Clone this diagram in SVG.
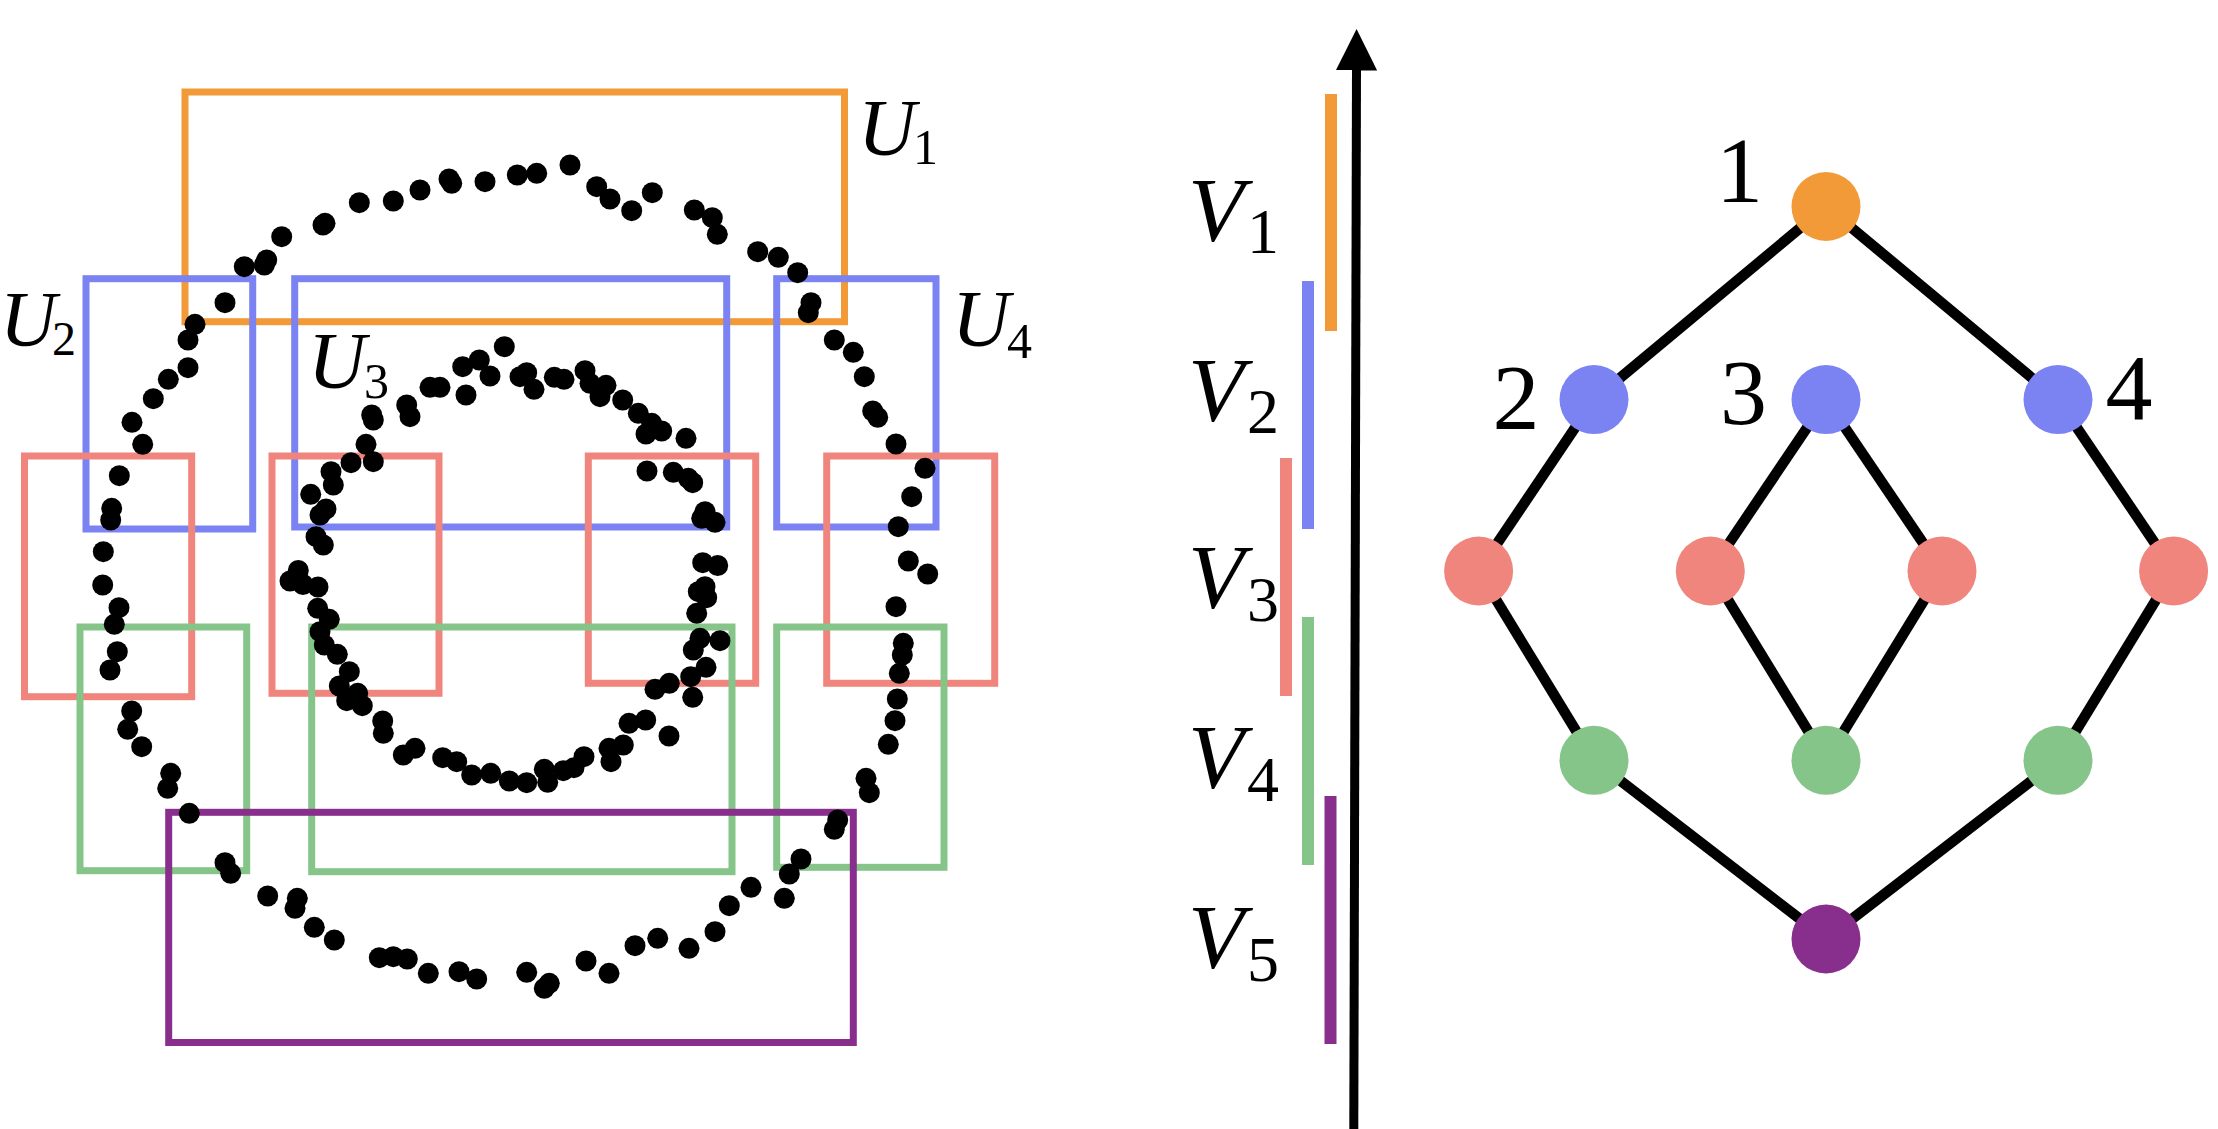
<svg xmlns="http://www.w3.org/2000/svg" width="2218" height="1129" viewBox="0 0 2218 1129">
<defs>
<style>
.bg{fill:#ffffff}
.r{fill:none;stroke-width:7}
.or{stroke:#F29A37}.bl{stroke:#7B82F2}.rd{stroke:#EF857D}.gr{stroke:#85C58A}.pu{stroke:#882E8C}
.dots circle{fill:#000}
.lab{font-family:"Liberation Serif","Times New Roman",serif;font-style:italic;fill:#000}
.sub{font-family:"Liberation Serif","Times New Roman",serif;fill:#000}
.num{font-family:"Liberation Serif","Times New Roman",serif;fill:#000;font-size:94px;text-anchor:middle}
.edge{stroke:#000;stroke-width:10.5;fill:none}
.node{stroke:none}
</style>
<marker id="ah" markerWidth="4.6" markerHeight="4.6" refX="0.5" refY="2.3" orient="auto" markerUnits="strokeWidth">
<path d="M0,0 L4.6,2.3 L0,4.6 Z" fill="#000"/>
</marker>
</defs>
<rect class="bg" x="0" y="0" width="2218" height="1129"/>

<g id="cover-rects">
<rect id="U1" class="r or" x="185" y="92" width="659.5" height="229.7"/>
<rect id="U2" class="r bl" x="86" y="278.7" width="166.7" height="250.3"/>
<rect id="U3" class="r bl" x="294.7" y="278.7" width="432" height="248.3"/>
<rect id="U4" class="r bl" x="776.7" y="278.7" width="159.3" height="248.3"/>
<rect class="r rd" x="24.5" y="456" width="167.2" height="240.7"/>
<rect class="r rd" x="272" y="456" width="167" height="237.3"/>
<rect class="r rd" x="588.3" y="456" width="167.4" height="227.3"/>
<rect class="r rd" x="826.7" y="456" width="168" height="227.3"/>
<rect class="r gr" x="80" y="627" width="166.7" height="243.7"/>
<rect class="r gr" x="311.7" y="627" width="420.3" height="244.7"/>
<rect class="r gr" x="776.7" y="627" width="167.3" height="240.3"/>
<rect class="r pu" x="168.7" y="812.3" width="684.6" height="230.2"/>
</g>

<g id="point-cloud" class="dots">
<circle cx="449" cy="179" r="10.5"/><circle cx="451.7" cy="183.3" r="10.5"/><circle cx="485" cy="181.7" r="10.5"/><circle cx="517.3" cy="175" r="10.5"/><circle cx="536.7" cy="173.3" r="10.5"/><circle cx="570" cy="165" r="10.5"/><circle cx="596.7" cy="186.7" r="10.5"/><circle cx="610" cy="199" r="10.5"/><circle cx="631.7" cy="210.7" r="10.5"/><circle cx="652.3" cy="192.7" r="10.5"/><circle cx="694.3" cy="210" r="10.5"/><circle cx="712.3" cy="217.7" r="10.5"/><circle cx="717.3" cy="234.3" r="10.5"/><circle cx="757.7" cy="251.7" r="10.5"/><circle cx="778.3" cy="257.3" r="10.5"/><circle cx="797.7" cy="272.7" r="10.5"/><circle cx="811" cy="302.7" r="10.5"/><circle cx="808.3" cy="312.7" r="10.5"/><circle cx="834.3" cy="340" r="10.5"/><circle cx="853.3" cy="352.3" r="10.5"/><circle cx="864.3" cy="376.7" r="10.5"/><circle cx="872.7" cy="411" r="10.5"/><circle cx="877.7" cy="417.3" r="10.5"/><circle cx="896" cy="444" r="10.5"/><circle cx="925" cy="468.3" r="10.5"/><circle cx="911.7" cy="496.7" r="10.5"/><circle cx="898.3" cy="526.7" r="10.5"/><circle cx="908.3" cy="561" r="10.5"/><circle cx="927.7" cy="574" r="10.5"/><circle cx="896" cy="606.7" r="10.5"/><circle cx="903.3" cy="643.3" r="10.5"/><circle cx="902.3" cy="655" r="10.5"/><circle cx="899.3" cy="673.3" r="10.5"/><circle cx="897.3" cy="699" r="10.5"/><circle cx="895" cy="720.7" r="10.5"/><circle cx="888.3" cy="744.3" r="10.5"/><circle cx="866" cy="778.3" r="10.5"/><circle cx="869.3" cy="792.7" r="10.5"/><circle cx="837.7" cy="820" r="10.5"/><circle cx="834.3" cy="829.3" r="10.5"/><circle cx="801" cy="859" r="10.5"/><circle cx="789.3" cy="874" r="10.5"/><circle cx="784.3" cy="898.3" r="10.5"/><circle cx="751" cy="887.3" r="10.5"/><circle cx="729.3" cy="905.7" r="10.5"/><circle cx="715" cy="931.7" r="10.5"/><circle cx="689" cy="948.3" r="10.5"/><circle cx="657.7" cy="938.3" r="10.5"/><circle cx="635" cy="945.7" r="10.5"/><circle cx="609" cy="973.3" r="10.5"/><circle cx="586" cy="961" r="10.5"/><circle cx="549.3" cy="983.3" r="10.5"/><circle cx="544.3" cy="988.3" r="10.5"/><circle cx="526.7" cy="972.3" r="10.5"/><circle cx="476.7" cy="979" r="10.5"/><circle cx="459" cy="971.7" r="10.5"/><circle cx="428.3" cy="973.3" r="10.5"/><circle cx="407.3" cy="959" r="10.5"/><circle cx="393.3" cy="956.7" r="10.5"/><circle cx="379.3" cy="957.7" r="10.5"/><circle cx="334.3" cy="940" r="10.5"/><circle cx="314.3" cy="927.3" r="10.5"/><circle cx="297.3" cy="898.3" r="10.5"/><circle cx="295" cy="908.3" r="10.5"/><circle cx="267.7" cy="896" r="10.5"/><circle cx="230.7" cy="873.3" r="10.5"/><circle cx="225" cy="862.7" r="10.5"/><circle cx="189.3" cy="813.3" r="10.5"/><circle cx="170.7" cy="773.3" r="10.5"/><circle cx="167.7" cy="788.3" r="10.5"/><circle cx="141.7" cy="746.7" r="10.5"/><circle cx="127.7" cy="729.3" r="10.5"/><circle cx="131.7" cy="711" r="10.5"/><circle cx="110" cy="670" r="10.5"/><circle cx="117.3" cy="651.7" r="10.5"/><circle cx="114.3" cy="624.3" r="10.5"/><circle cx="119" cy="607.7" r="10.5"/><circle cx="102.7" cy="585" r="10.5"/><circle cx="103.3" cy="551.7" r="10.5"/><circle cx="110.7" cy="520" r="10.5"/><circle cx="111.7" cy="508.3" r="10.5"/><circle cx="119.3" cy="475.7" r="10.5"/><circle cx="142.7" cy="444.3" r="10.5"/><circle cx="132" cy="422.3" r="10.5"/><circle cx="153.3" cy="398.7" r="10.5"/><circle cx="168.3" cy="379.3" r="10.5"/><circle cx="188" cy="367.7" r="10.5"/><circle cx="188" cy="340" r="10.5"/><circle cx="195" cy="324.3" r="10.5"/><circle cx="225" cy="302.7" r="10.5"/><circle cx="244.3" cy="266.7" r="10.5"/><circle cx="264.3" cy="265" r="10.5"/><circle cx="266.7" cy="260" r="10.5"/><circle cx="281.7" cy="236.7" r="10.5"/><circle cx="323" cy="225" r="10.5"/><circle cx="325" cy="223.3" r="10.5"/><circle cx="359.3" cy="202.7" r="10.5"/><circle cx="393.3" cy="201" r="10.5"/><circle cx="420" cy="190" r="10.5"/>
<circle cx="504.3" cy="346.7" r="10.5"/><circle cx="479.3" cy="360" r="10.5"/><circle cx="462.7" cy="366.7" r="10.5"/><circle cx="490" cy="376" r="10.5"/><circle cx="520" cy="376.7" r="10.5"/><circle cx="526.7" cy="372.7" r="10.5"/><circle cx="534" cy="389.3" r="10.5"/><circle cx="554.3" cy="377.3" r="10.5"/><circle cx="564" cy="379.3" r="10.5"/><circle cx="585" cy="370.7" r="10.5"/><circle cx="590" cy="383.3" r="10.5"/><circle cx="606" cy="385.3" r="10.5"/><circle cx="600" cy="396.7" r="10.5"/><circle cx="622.7" cy="400" r="10.5"/><circle cx="638.3" cy="413.3" r="10.5"/><circle cx="651.7" cy="423.3" r="10.5"/><circle cx="646" cy="434" r="10.5"/><circle cx="661.7" cy="431" r="10.5"/><circle cx="686" cy="438.3" r="10.5"/><circle cx="647" cy="471" r="10.5"/><circle cx="673.3" cy="472.3" r="10.5"/><circle cx="688.3" cy="478.3" r="10.5"/><circle cx="692.7" cy="482.7" r="10.5"/><circle cx="705" cy="511.7" r="10.5"/><circle cx="701.7" cy="518.3" r="10.5"/><circle cx="715" cy="522.3" r="10.5"/><circle cx="702.7" cy="562.7" r="10.5"/><circle cx="717.7" cy="565.5" r="10.5"/><circle cx="705" cy="586.7" r="10.5"/><circle cx="698.3" cy="591.7" r="10.5"/><circle cx="706.7" cy="597.7" r="10.5"/><circle cx="696.7" cy="613.3" r="10.5"/><circle cx="700" cy="638.3" r="10.5"/><circle cx="693.3" cy="650" r="10.5"/><circle cx="720" cy="640.7" r="10.5"/><circle cx="706" cy="667.3" r="10.5"/><circle cx="690.7" cy="676.7" r="10.5"/><circle cx="669.3" cy="683.3" r="10.5"/><circle cx="655" cy="689.3" r="10.5"/><circle cx="692.7" cy="697.3" r="10.5"/><circle cx="645.7" cy="720" r="10.5"/><circle cx="629" cy="723.3" r="10.5"/><circle cx="669" cy="736" r="10.5"/><circle cx="623.3" cy="745" r="10.5"/><circle cx="609" cy="748.3" r="10.5"/><circle cx="611" cy="761.7" r="10.5"/><circle cx="584" cy="756.7" r="10.5"/><circle cx="574" cy="767.7" r="10.5"/><circle cx="563.3" cy="770.7" r="10.5"/><circle cx="544.3" cy="769.3" r="10.5"/><circle cx="547.7" cy="782.3" r="10.5"/><circle cx="526.7" cy="782.7" r="10.5"/><circle cx="509.3" cy="781" r="10.5"/><circle cx="490.7" cy="773.3" r="10.5"/><circle cx="471.7" cy="775" r="10.5"/><circle cx="456.7" cy="761.7" r="10.5"/><circle cx="442.7" cy="757.7" r="10.5"/><circle cx="415" cy="748.3" r="10.5"/><circle cx="403.3" cy="755" r="10.5"/><circle cx="383.3" cy="733.3" r="10.5"/><circle cx="382.7" cy="721" r="10.5"/><circle cx="362.3" cy="705.7" r="10.5"/><circle cx="346.7" cy="700.7" r="10.5"/><circle cx="357.7" cy="693.3" r="10.5"/><circle cx="339.3" cy="686" r="10.5"/><circle cx="349.3" cy="671.7" r="10.5"/><circle cx="337.3" cy="654.3" r="10.5"/><circle cx="324.3" cy="645" r="10.5"/><circle cx="320" cy="631.7" r="10.5"/><circle cx="329.3" cy="619.3" r="10.5"/><circle cx="317.7" cy="608.3" r="10.5"/><circle cx="318" cy="587" r="10.5"/><circle cx="303" cy="584.5" r="10.5"/><circle cx="290" cy="581" r="10.5"/><circle cx="298.3" cy="570.5" r="10.5"/><circle cx="323.3" cy="545" r="10.5"/><circle cx="316" cy="536.7" r="10.5"/><circle cx="320" cy="515" r="10.5"/><circle cx="326" cy="509" r="10.5"/><circle cx="310.7" cy="494.3" r="10.5"/><circle cx="331" cy="471.7" r="10.5"/><circle cx="333.3" cy="485" r="10.5"/><circle cx="351" cy="462.7" r="10.5"/><circle cx="373.3" cy="461.7" r="10.5"/><circle cx="366" cy="444.3" r="10.5"/><circle cx="371.7" cy="415" r="10.5"/><circle cx="373.3" cy="420" r="10.5"/><circle cx="406.7" cy="405" r="10.5"/><circle cx="410" cy="416.7" r="10.5"/><circle cx="430" cy="387.3" r="10.5"/><circle cx="440" cy="387.3" r="10.5"/><circle cx="466" cy="395" r="10.5"/>
</g>

<g id="cover-labels">
<text class="lab" x="858" y="155" font-size="80">U</text><text class="sub" x="913" y="164" font-size="50">1</text>
<text class="lab" x="0" y="345" font-size="78">U</text><text class="sub" x="52" y="355" font-size="48">2</text>
<text class="lab" x="308" y="388" font-size="80">U</text><text class="sub" x="364" y="398" font-size="50">3</text>
<text class="lab" x="952" y="346" font-size="80">U</text><text class="sub" x="1007" y="358" font-size="50">4</text>
</g>

<g id="axis">
<line x1="1353.8" y1="1129" x2="1356.5" y2="66" stroke="#000" stroke-width="9" marker-end="url(#ah)"/>
</g>

<g id="intervals">
<rect x="1325" y="94" width="12" height="237" fill="#F29A37"/>
<rect x="1302" y="281" width="12" height="248" fill="#7B82F2"/>
<rect x="1280" y="458" width="12" height="238" fill="#EF857D"/>
<rect x="1302" y="617" width="12" height="248" fill="#85C58A"/>
<rect x="1324.5" y="796" width="12" height="248" fill="#882E8C"/>
</g>

<g id="interval-labels">
<text class="lab" x="1188" y="241" font-size="92">V</text><text class="sub" x="1247" y="253" font-size="64">1</text>
<text class="lab" x="1188" y="421" font-size="92">V</text><text class="sub" x="1247" y="433" font-size="64">2</text>
<text class="lab" x="1188" y="608" font-size="92">V</text><text class="sub" x="1247" y="621" font-size="64">3</text>
<text class="lab" x="1188" y="788" font-size="92">V</text><text class="sub" x="1247" y="801" font-size="64">4</text>
<text class="lab" x="1188" y="968" font-size="92">V</text><text class="sub" x="1247" y="981" font-size="64">5</text>
</g>

<g id="connectors" class="edge">
<line x1="1826" y1="206.5" x2="1594" y2="399.6"/>
<line x1="1826" y1="206.5" x2="2058" y2="399.6"/>
<line x1="1594" y1="399.6" x2="1478.6" y2="571"/>
<line x1="2058" y1="399.6" x2="2173.6" y2="571"/>
<line x1="1826" y1="399.6" x2="1710.3" y2="571"/>
<line x1="1826" y1="399.6" x2="1942" y2="571"/>
<line x1="1478.6" y1="571" x2="1594" y2="760.3"/>
<line x1="1710.3" y1="571" x2="1826" y2="760.3"/>
<line x1="1942" y1="571" x2="1826" y2="760.3"/>
<line x1="2173.6" y1="571" x2="2058" y2="760.3"/>
<line x1="1594" y1="760.3" x2="1826" y2="939"/>
<line x1="2058" y1="760.3" x2="1826" y2="939"/>
</g>

<g id="node-1"><circle class="node" cx="1826" cy="206.5" r="34.5" fill="#F29A37"/><text class="num" x="1739.5" y="201.5">1</text></g>
<g id="node-2"><circle class="node" cx="1594" cy="399.6" r="34.5" fill="#7B82F2"/><text class="num" x="1516" y="429">2</text></g>
<g id="node-3"><circle class="node" cx="1826" cy="399.6" r="34.5" fill="#7B82F2"/><text class="num" x="1743.5" y="424">3</text></g>
<g id="node-4"><circle class="node" cx="2058" cy="399.6" r="34.5" fill="#7B82F2"/><text class="num" x="2129" y="419">4</text></g>
<g id="node-5"><circle class="node" cx="1478.6" cy="571" r="34.5" fill="#EF857D"/></g>
<g id="node-6"><circle class="node" cx="1710.3" cy="571" r="34.5" fill="#EF857D"/></g>
<g id="node-7"><circle class="node" cx="1942" cy="571" r="34.5" fill="#EF857D"/></g>
<g id="node-8"><circle class="node" cx="2173.6" cy="571" r="34.5" fill="#EF857D"/></g>
<g id="node-9"><circle class="node" cx="1594" cy="760.3" r="34.5" fill="#85C58A"/></g>
<g id="node-10"><circle class="node" cx="1826" cy="760.3" r="34.5" fill="#85C58A"/></g>
<g id="node-11"><circle class="node" cx="2058" cy="760.3" r="34.5" fill="#85C58A"/></g>
<g id="node-12"><circle class="node" cx="1826" cy="939" r="34.5" fill="#882E8C"/></g>
</svg>
